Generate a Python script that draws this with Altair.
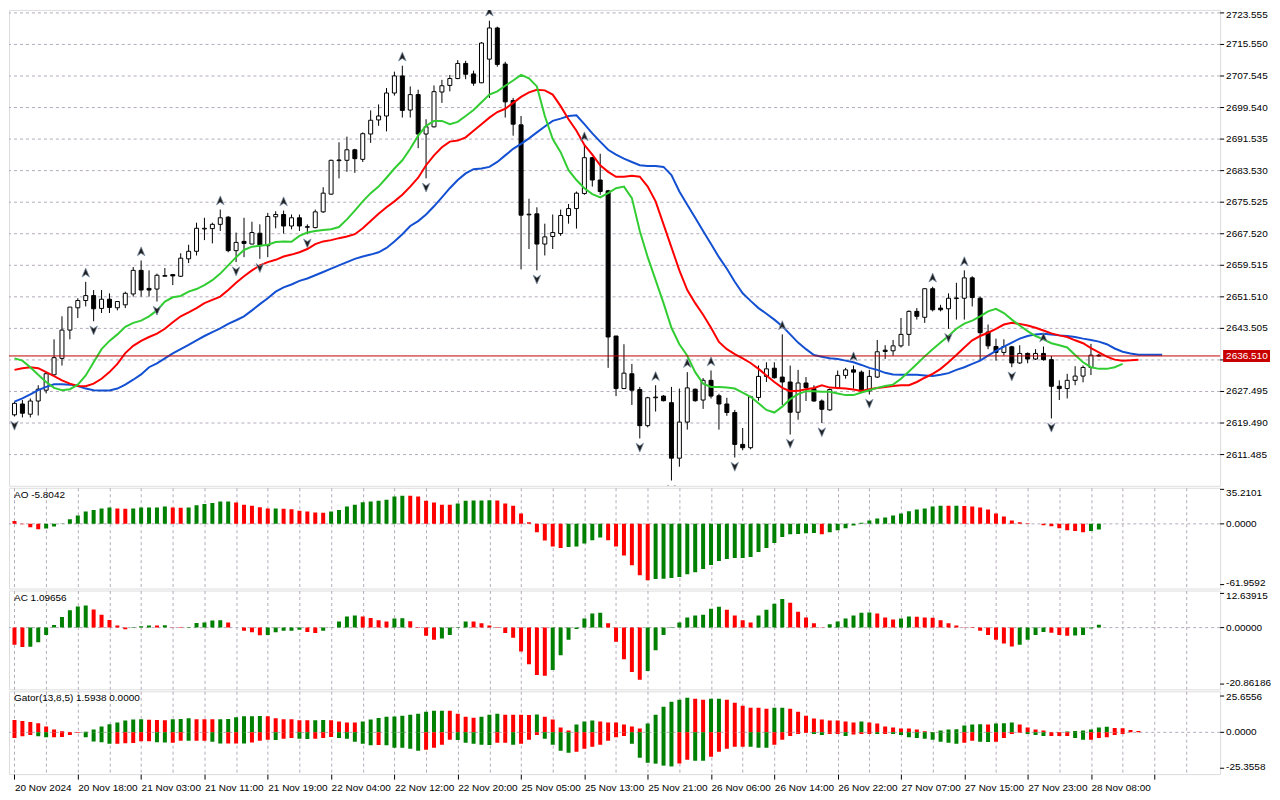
import altair as alt
import pandas as pd

# ---------------- data ----------------
tick_labels = ["20 Nov 2024", "20 Nov 18:00", "21 Nov 03:00", "21 Nov 11:00", "21 Nov 19:00",
               "22 Nov 04:00", "22 Nov 12:00", "22 Nov 20:00", "25 Nov 05:00", "25 Nov 13:00",
               "25 Nov 21:00", "26 Nov 06:00", "26 Nov 14:00", "26 Nov 22:00", "27 Nov 07:00",
               "27 Nov 15:00", "27 Nov 23:00", "28 Nov 08:00"]

price_ticks = [2723.555, 2715.550, 2707.545, 2699.540, 2691.535, 2683.530, 2675.525, 2667.520,
               2659.515, 2651.510, 2643.505, 2635.500, 2627.495, 2619.490, 2611.485]
ao_ticks = [35.2101, 0.0, -61.9592]
ac_ticks = [12.63915, 0.0, -20.86186]
gator_ticks = [25.6556, 0.0, -25.3558]
last_price = 2636.51

opens = [2621.57, 2624.32, 2621.73, 2625.07, 2627.82, 2631.73, 2635.90, 2643.07, 2648.73, 2650.57,
 2651.82, 2648.57, 2650.90, 2648.73, 2649.48, 2652.23, 2658.23, 2653.65, 2653.48, 2656.73,
 2657.15, 2656.73, 2661.15, 2663.07, 2668.73, 2668.82, 2669.90, 2671.73, 2663.23, 2665.57,
 2664.90, 2667.65, 2664.48, 2671.82, 2672.40, 2669.48, 2671.57, 2669.15, 2669.07, 2673.07,
 2677.57, 2686.07, 2686.15, 2688.82, 2686.40, 2692.82, 2696.40, 2697.40, 2703.23, 2707.57,
 2698.90, 2702.82, 2692.82, 2694.65, 2703.48, 2705.15, 2706.90, 2710.73, 2708.07, 2705.82,
 2711.82, 2719.73, 2710.57, 2701.32, 2695.15, 2672.32, 2672.57, 2664.90, 2666.82, 2667.57,
 2672.15, 2673.90, 2677.73, 2686.82, 2681.15, 2678.40, 2641.57, 2628.23, 2631.98, 2627.98,
 2618.82, 2625.90, 2626.32, 2624.65, 2610.57, 2619.73, 2628.07, 2625.32, 2630.32, 2626.40,
 2624.32, 2622.15, 2614.07, 2613.23, 2625.98, 2631.32, 2633.40, 2631.15, 2629.90, 2622.23,
 2629.65, 2628.23, 2625.07, 2622.82, 2628.40, 2631.57, 2632.98, 2632.40, 2627.65, 2631.15,
 2637.98, 2637.82, 2639.07, 2641.98, 2647.82, 2646.32, 2653.57, 2648.65, 2648.48, 2651.07,
 2651.15, 2656.32, 2651.15, 2642.57, 2638.90, 2637.40, 2638.82, 2634.73, 2637.15, 2635.73,
 2637.15, 2635.57, 2628.82, 2628.23, 2630.32, 2631.40, 2633.58, 2636.70]

highs = [2624.90, 2625.32, 2625.73, 2629.07, 2632.40, 2640.73, 2646.57, 2648.90, 2651.15, 2655.32,
 2653.23, 2653.23, 2652.40, 2650.32, 2652.82, 2659.07, 2660.73, 2658.23, 2657.40, 2658.82,
 2657.15, 2662.57, 2664.73, 2670.32, 2671.57, 2670.32, 2673.65, 2671.98, 2667.82, 2671.57,
 2670.57, 2669.90, 2672.82, 2673.23, 2673.40, 2672.40, 2672.40, 2669.90, 2673.65, 2679.32,
 2686.32, 2690.73, 2692.15, 2689.07, 2693.23, 2698.82, 2700.32, 2704.48, 2708.65, 2710.15,
 2704.90, 2704.07, 2696.57, 2705.15, 2706.57, 2707.82, 2711.57, 2711.40, 2708.90, 2716.15,
 2721.57, 2720.07, 2711.15, 2701.98, 2697.40, 2676.40, 2674.23, 2670.07, 2672.40, 2673.65,
 2675.07, 2678.23, 2689.90, 2686.98, 2687.82, 2678.65, 2641.57, 2639.48, 2634.48, 2628.65,
 2626.15, 2629.07, 2626.57, 2628.65, 2628.23, 2632.40, 2628.23, 2630.90, 2632.82, 2626.90,
 2625.90, 2622.82, 2618.23, 2626.40, 2634.07, 2634.90, 2634.90, 2641.98, 2634.07, 2632.98,
 2631.15, 2629.07, 2625.48, 2628.23, 2632.82, 2633.48, 2634.07, 2632.82, 2632.98, 2640.57,
 2639.23, 2640.57, 2646.15, 2648.07, 2648.65, 2653.65, 2654.07, 2649.48, 2652.40, 2655.07,
 2658.23, 2656.73, 2651.57, 2644.48, 2640.90, 2640.73, 2639.07, 2639.23, 2637.40, 2638.23,
 2638.90, 2636.50, 2630.32, 2631.98, 2633.90, 2634.10, 2639.58, 2637.00]

lows = [2621.15, 2620.90, 2620.90, 2621.40, 2627.00, 2631.57, 2634.07, 2640.73, 2646.15, 2649.07,
 2645.32, 2647.40, 2647.40, 2648.07, 2648.65, 2651.57, 2651.57, 2651.57, 2650.32, 2656.73,
 2654.48, 2656.57, 2660.07, 2662.00, 2665.90, 2665.07, 2668.23, 2662.82, 2660.32, 2661.57,
 2664.90, 2661.15, 2661.57, 2668.90, 2667.57, 2668.65, 2668.23, 2667.40, 2668.90, 2672.82,
 2677.40, 2681.57, 2683.23, 2682.98, 2685.73, 2690.57, 2694.90, 2693.48, 2702.57, 2697.00,
 2697.00, 2689.23, 2681.57, 2694.48, 2700.73, 2703.65, 2706.73, 2706.73, 2705.07, 2705.73,
 2701.98, 2709.90, 2697.00, 2692.40, 2658.48, 2663.65, 2658.23, 2662.00, 2663.65, 2666.98,
 2670.07, 2668.82, 2677.40, 2679.48, 2677.40, 2633.48, 2626.32, 2628.23, 2624.07, 2615.57,
 2618.40, 2622.40, 2624.98, 2604.90, 2608.40, 2617.82, 2624.90, 2623.07, 2625.73, 2617.82,
 2621.32, 2610.73, 2612.57, 2612.82, 2625.15, 2629.90, 2630.73, 2624.07, 2616.57, 2620.32,
 2625.07, 2624.90, 2619.48, 2622.57, 2628.07, 2630.73, 2628.23, 2627.40, 2626.73, 2630.90,
 2635.73, 2636.57, 2638.65, 2639.07, 2645.73, 2644.90, 2647.82, 2647.82, 2643.40, 2645.73,
 2645.73, 2649.07, 2635.32, 2638.23, 2635.32, 2636.57, 2633.65, 2634.48, 2634.65, 2635.48,
 2635.32, 2620.65, 2625.32, 2625.73, 2629.07, 2629.80, 2631.65, 2636.30]

closes = [2624.48, 2621.98, 2625.07, 2628.07, 2632.00, 2636.07, 2643.07, 2648.90, 2650.57, 2651.82,
 2648.48, 2650.90, 2648.82, 2650.32, 2652.40, 2658.23, 2653.23, 2653.23, 2656.98, 2656.90,
 2656.82, 2661.32, 2663.07, 2668.90, 2668.90, 2669.90, 2671.57, 2663.23, 2665.32, 2665.07,
 2667.82, 2664.48, 2671.90, 2672.40, 2669.48, 2671.57, 2669.48, 2669.32, 2673.07, 2677.82,
 2686.15, 2686.23, 2688.82, 2686.57, 2692.90, 2696.32, 2697.40, 2703.23, 2707.57, 2698.82,
 2702.82, 2692.82, 2694.65, 2703.57, 2705.07, 2706.90, 2710.73, 2707.98, 2705.73, 2715.90,
 2719.73, 2710.48, 2700.98, 2695.32, 2672.23, 2672.48, 2664.90, 2666.73, 2667.82, 2672.15,
 2673.90, 2677.82, 2686.82, 2681.15, 2678.23, 2641.32, 2628.23, 2632.15, 2627.82, 2618.82,
 2625.90, 2626.07, 2625.15, 2610.57, 2619.73, 2628.40, 2625.15, 2630.32, 2626.32, 2624.32,
 2622.15, 2614.07, 2613.23, 2626.15, 2631.32, 2633.23, 2630.98, 2629.90, 2622.23, 2629.65,
 2628.48, 2625.07, 2622.98, 2627.98, 2631.57, 2632.98, 2632.40, 2627.65, 2631.32, 2637.57,
 2637.65, 2639.07, 2641.98, 2647.82, 2646.57, 2653.57, 2648.23, 2648.23, 2651.15, 2651.23,
 2656.32, 2651.32, 2642.40, 2639.07, 2637.40, 2638.90, 2634.73, 2637.15, 2635.73, 2637.15,
 2635.57, 2628.82, 2628.23, 2630.32, 2631.40, 2633.60, 2636.70, 2636.51]

lips = [2635.90, 2635.32, 2633.65, 2631.73, 2629.90, 2628.40, 2627.82, 2628.07, 2629.23, 2631.57,
 2634.90, 2638.23, 2640.32, 2641.98, 2643.90, 2644.90, 2645.48, 2646.57, 2648.07, 2650.32,
 2651.40, 2651.73, 2652.82, 2653.48, 2654.48, 2655.73, 2657.40, 2659.48, 2661.57, 2663.40,
 2664.23, 2664.48, 2664.73, 2665.40, 2665.57, 2665.48, 2666.98, 2667.82, 2668.23, 2668.48,
 2668.65, 2669.23, 2671.15, 2673.40, 2675.73, 2677.82, 2679.48, 2681.73, 2684.07, 2686.15,
 2689.07, 2692.40, 2694.90, 2696.15, 2696.15, 2695.32, 2695.90, 2697.40, 2698.90, 2700.90,
 2702.82, 2703.65, 2705.07, 2706.40, 2707.82, 2706.98, 2704.90, 2697.40, 2691.57, 2688.23,
 2683.65, 2681.15, 2679.07, 2677.57, 2676.73, 2677.82, 2679.07, 2679.48, 2676.57, 2668.23,
 2661.57, 2655.73, 2649.90, 2643.65, 2639.48, 2636.57, 2632.40, 2629.48, 2628.65, 2628.65,
 2628.48, 2628.23, 2627.23, 2626.15, 2624.48, 2622.82, 2622.15, 2623.65, 2625.57, 2626.82,
 2627.57, 2627.57, 2627.40, 2627.40, 2626.98, 2626.57, 2626.57, 2627.23, 2627.82, 2628.40,
 2628.90, 2629.23, 2630.73, 2632.57, 2634.48, 2636.40, 2638.23, 2639.90, 2641.57, 2643.40,
 2644.73, 2645.48, 2646.57, 2647.82, 2648.48, 2647.40, 2645.73, 2644.23, 2642.82, 2641.57,
 2640.73, 2639.73, 2639.23, 2638.65, 2636.73, 2634.90, 2633.65, 2633.23, 2633.23, 2633.65,
 2634.48]

teeth = [2632.98, 2633.40, 2633.65, 2633.40, 2632.40, 2631.40, 2630.32, 2629.48, 2628.90, 2628.82,
 2629.48, 2630.73, 2632.40, 2634.48, 2637.23, 2639.07, 2640.32, 2641.32, 2642.15, 2643.40,
 2645.07, 2646.57, 2647.57, 2648.65, 2649.90, 2650.73, 2651.57, 2653.23, 2655.07, 2656.73,
 2658.23, 2659.48, 2660.32, 2660.90, 2661.73, 2662.23, 2662.82, 2663.65, 2664.90, 2665.57,
 2665.90, 2666.40, 2666.82, 2667.40, 2668.90, 2670.73, 2672.57, 2674.23, 2675.73, 2677.40,
 2679.48, 2681.73, 2684.90, 2687.40, 2689.48, 2690.90, 2691.15, 2691.98, 2693.65, 2695.32,
 2696.98, 2698.40, 2699.23, 2700.73, 2702.23, 2703.40, 2704.07, 2703.90, 2702.82, 2699.90,
 2696.57, 2693.65, 2690.07, 2687.57, 2684.90, 2683.23, 2681.98, 2681.98, 2682.23, 2681.98,
 2679.48, 2675.73, 2669.90, 2664.07, 2658.23, 2653.23, 2649.90, 2646.98, 2643.65, 2640.07,
 2638.23, 2636.98, 2635.90, 2634.73, 2633.23, 2631.57, 2629.90, 2628.40, 2627.57, 2627.65,
 2628.07, 2628.40, 2629.07, 2628.48, 2628.40, 2628.23, 2627.98, 2627.65, 2628.07, 2628.40,
 2628.65, 2628.90, 2629.07, 2629.07, 2629.90, 2630.98, 2631.98, 2633.23, 2634.90, 2636.73,
 2638.65, 2640.48, 2641.57, 2642.40, 2643.40, 2644.48, 2644.90, 2644.65, 2644.23, 2643.65,
 2642.98, 2642.23, 2641.73, 2641.32, 2640.48, 2639.73, 2638.48, 2637.40, 2636.32, 2635.57,
 2635.32, 2635.40, 2635.57]

jaw = [2624.90, 2625.73, 2626.73, 2627.82, 2628.65, 2629.32, 2629.32, 2629.23, 2628.90, 2628.23,
 2627.82, 2627.73, 2627.73, 2628.23, 2629.23, 2630.48, 2631.82, 2633.65, 2634.65, 2635.90,
 2637.15, 2638.23, 2639.32, 2640.48, 2641.57, 2642.57, 2643.48, 2644.65, 2645.57, 2646.57,
 2648.07, 2649.65, 2651.15, 2652.82, 2653.90, 2654.65, 2655.57, 2656.15, 2656.98, 2657.82,
 2658.65, 2659.48, 2660.32, 2661.15, 2661.73, 2662.23, 2662.82, 2663.90, 2665.57, 2667.40,
 2669.48, 2670.73, 2672.40, 2674.48, 2676.73, 2679.07, 2681.15, 2682.82, 2683.90, 2684.07,
 2684.48, 2685.73, 2687.40, 2689.07, 2690.32, 2691.73, 2693.23, 2694.73, 2696.15, 2696.73,
 2697.40, 2697.57, 2695.32, 2692.98, 2690.90, 2688.82, 2687.57, 2686.57, 2685.73, 2684.90,
 2684.73, 2684.73, 2684.48, 2682.40, 2678.23, 2674.90, 2671.57, 2668.23, 2664.90, 2661.57,
 2658.65, 2655.32, 2652.40, 2650.48, 2648.65, 2647.23, 2645.73, 2644.07, 2641.98, 2639.90,
 2638.23, 2636.73, 2636.32, 2635.90, 2635.73, 2635.32, 2634.90, 2634.23, 2633.48, 2632.98,
 2632.23, 2631.82, 2631.73, 2631.73, 2631.73, 2631.57, 2631.40, 2631.73, 2632.15, 2632.98,
 2633.65, 2634.48, 2635.32, 2636.57, 2637.82, 2638.90, 2639.90, 2640.90, 2641.57, 2641.98,
 2642.15, 2641.98, 2641.73, 2641.57, 2641.32, 2640.90, 2640.57, 2640.15, 2639.48, 2638.40,
 2637.57, 2637.15, 2636.82, 2636.82, 2636.82, 2636.82]

fractal_up_bars = [9, 16, 26, 34, 49, 60, 72, 81, 85, 88, 97, 106, 116, 120, 130]
fractal_down_bars = [0, 10, 18, 28, 31, 37, 52, 66, 79, 83, 91, 98, 102, 108, 118, 126, 131]

ao_values = [3.0, -0.5, -3.4, -5.4, -4.7, -2.7, 0.3, 4.7, 8.5, 12.5,
 14.2, 15.6, 16.6, 15.6, 15.4, 15.7, 16.6, 16.7, 16.8, 17.6,
 16.6, 16.5, 16.7, 19.0, 20.3, 21.3, 22.7, 22.8, 21.7, 19.6,
 18.6, 16.9, 15.6, 15.7, 15.5, 14.9, 13.5, 12.5, 11.5, 11.4,
 12.5, 14.2, 17.6, 19.6, 22.0, 22.7, 23.7, 24.7, 27.8, 28.8,
 28.7, 27.8, 23.7, 21.7, 19.6, 19.5, 20.7, 23.7, 23.8, 23.9,
 24.0, 23.8, 20.7, 18.6, 10.5, 1.7, -8.5, -16.9, -23.0, -24.7,
 -23.7, -23.0, -20.0, -16.6, -13.9, -16.6, -23.0, -32.2, -42.3, -52.5,
 -57.6, -56.2, -56.1, -55.2, -54.2, -51.5, -49.4, -46.0, -42.0, -37.9,
 -35.9, -34.9, -34.8, -33.9, -28.8, -24.7, -19.6, -13.5, -10.5, -10.4,
 -9.5, -9.4, -10.5, -8.5, -6.4, -4.4, -1.7, 1.2, 3.4, 5.4,
 6.4, 8.5, 10.5, 12.9, 14.6, 15.6, 17.6, 18.6, 18.5, 18.6,
 18.3, 17.6, 16.6, 14.6, 10.5, 7.4, 3.4, 1.7, 0.6, 0.2,
 -1.4, -2.4, -4.4, -6.4, -7.4, -8.5, -7.4, -5.8]
ao_states = ("rrrrgggggg" "gggrrggggg" "rrggggggrr" "rrrgrrrrrr" "gggggggggg"
             "rrrrrrgggg" "grrrrrrrrr" "gggggrrrrr" "rggggggggg" "gggggggggg"
             "ggrggggggg" "ggggggggrg" "rrrrrrrrrr" "rrrrrrgg")

ac_values = [-6.3, -7.2, -7.1, -5.4, -2.7, 1.0, 3.9, 6.4, 7.8, 8.2,
 6.7, 4.8, 2.8, 0.8, -0.6, 0.2, 0.5, 0.8, 0.75, 0.85,
 0.1, -0.1, 0.2, 1.7, 1.9, 2.65, 2.7, 1.9, 0.05, -1.2,
 -1.7, -2.8, -2.75, -1.7, -1.2, -1.15, -0.8, -1.6, -2.0, -1.2,
 0.1, 2.3, 4.1, 4.5, 4.1, 3.6, 2.7, 2.3, 3.4, 3.45,
 2.4, 0.2, -3.0, -4.5, -4.0, -2.7, 0.2, 2.3, 2.25, 1.6,
 0.8, -0.1, -2.0, -3.7, -8.8, -13.5, -17.5, -17.8, -15.7, -10.2,
 -4.5, -0.5, 3.4, 5.2, 5.5, 1.6, -5.2, -11.7, -16.4, -19.3,
 -16.0, -8.4, -2.7, 0.2, 1.9, 3.7, 4.5, 4.8, 7.0, 7.7,
 6.6, 4.5, 2.7, 1.9, 4.5, 6.6, 8.8, 10.6, 9.2, 5.9,
 3.7, 1.6, 0.1, 1.2, 2.3, 3.4, 4.5, 5.5, 5.6, 5.2,
 3.7, 3.0, 3.4, 4.1, 4.05, 3.7, 3.65, 2.7, 1.6, 0.8,
 0.1, -0.1, -1.2, -2.7, -4.5, -5.9, -7.0, -6.3, -4.5, -2.7,
 -1.6, -1.9, -2.7, -3.0, -2.9, -2.7, -0.3, 1.1]
ac_states = ("rrgggggggg" "rrrrrgggrg" "rrgggggrrr" "rrgggggrrg" "ggggrrrrgg"
             "rrrrggggrr" "rrrrrrrrgg" "gggggrrrrr" "gggggggggg" "rrrrggggrr"
             "rrrggggggr" "rrggrrrrrr" "rrrrrrrggg" "grrrgggg")

gator_upper = [8.8, 8.1, 7.4, 6.5, 4.2, 2.1, 0.7, 0.3, 0.2, 0.4,
 2.1, 4.2, 5.8, 7.0, 8.4, 9.1, 9.2, 8.9, 8.7, 8.6,
 9.3, 9.35, 10.0, 9.3, 9.25, 9.2, 9.3, 9.35, 10.7, 11.4,
 11.45, 11.5, 11.4, 10.0, 9.3, 9.2, 8.6, 8.5, 8.6, 8.65,
 8.5, 7.7, 7.0, 6.9, 7.7, 9.1, 10.2, 11.1, 11.15, 11.8,
 12.5, 13.2, 14.6, 15.3, 15.35, 15.3, 13.2, 11.1, 10.4, 11.1,
 12.5, 13.2, 12.5, 12.45, 12.4, 12.35, 12.6, 11.1, 9.1, 3.5,
 1.4, 5.6, 7.7, 8.4, 7.7, 7.0, 6.95, 5.6, 4.2, 2.8,
 6.3, 12.5, 18.1, 21.6, 23.0, 24.4, 23.7, 23.0, 23.7, 23.75,
 23.0, 20.9, 18.8, 17.4, 17.3, 16.7, 17.4, 17.45, 16.7, 14.6,
 11.8, 9.8, 9.1, 8.4, 8.35, 7.7, 7.0, 7.7, 7.0, 6.3,
 4.2, 3.5, 2.8, 2.75, 2.1, 0.7, 0.3, 1.4, 2.1, 2.15,
 4.9, 5.6, 5.65, 5.6, 6.3, 6.35, 7.0, 5.6, 3.5, 2.1,
 1.4, 0.1, 0.3, 0.6, 0.9, 1.4, 2.1, 3.5, 3.9, 3.0,
 2.95, 1.6, 0.9]
gator_upper_states = ("rrrrrrrrrg" "gggggggrrr" "gggrrrgggg" "ggrrrrrrgg" "rrrrgggggg"
                      "gggggrrrrg" "ggrrrrgrrr" "rgggrrrrrr" "ggggggrrgg" "rrrrrrggrr"
                      "rrrrrrrgrr" "rrrrrrrggg" "gggrgggrrr" "rrgggggggr" "rrr")

gator_lower = [-3.9, -2.8, -1.9, -2.8, -3.5, -3.45, -3.3, -1.9, -0.2, -3.5,
 -6.5, -7.0, -8.1, -8.0, -7.7, -7.6, -6.3, -6.2, -6.9, -7.2,
 -7.4, -6.0, -6.0, -6.0, -6.0, -6.7, -7.9, -7.9, -7.8, -7.9,
 -7.2, -6.0, -5.3, -5.35, -4.6, -3.9, -4.6, -4.65, -4.6, -3.9,
 -3.3, -3.9, -4.6, -6.7, -8.1, -9.1, -9.0, -9.1, -10.9, -10.95,
 -11.6, -13.0, -12.3, -10.9, -8.8, -5.3, -5.35, -7.4, -8.1, -8.8,
 -8.85, -7.4, -7.4, -8.8, -8.1, -5.3, -1.9, -4.6, -8.8, -13.0,
 -14.4, -13.7, -11.6, -10.2, -8.8, -6.0, -3.5, -2.6, -8.1, -17.9,
 -21.4, -22.1, -23.5, -24.1, -22.0, -19.3, -20.0, -20.05, -17.2, -13.7,
 -11.6, -10.2, -10.2, -10.25, -10.9, -10.95, -8.8, -5.3, -2.6, -1.2,
 -0.5, -1.2, -1.9, -1.2, -1.2, -2.6, -1.6, -1.2, -1.15, -1.2,
 -1.15, -1.2, -1.9, -3.5, -3.9, -4.6, -5.3, -6.7, -7.4, -8.1,
 -7.4, -6.0, -6.7, -6.75, -6.7, -3.9, -1.2, -0.2, -1.2, -1.9,
 -2.6, -2.6, -2.6, -2.6, -3.9, -5.3, -5.3, -3.9, -3.5, -1.9,
 -1.2]
gator_lower_states = ("rrrggrrrrg" "gggrrrrrgg" "rrgrrggrrg" "rrrgrrggrr" "rgggggrggg"
                      "ggrrrrgggg" "grrgrrrggg" "grrrrrrrgg" "ggggrrggrr" "rrrgggrrrr"
                      "rggrrgrrrg" "rggggggggg" "rrggrrrrgg" "grrrggrrrr" "r")

panel_titles = ["AO -5.8042", "AC 1.09656", "Gator(13,8,5) 1.5938 0.0000"]

# ---------------- styling ----------------
FONT = "Liberation Sans"
FS = 10
GRID = "#b4aabb"
GREEN = "#008000"
RED = "#ff0000"
W = 1214
H_MAIN, H_AO, H_AC, H_GT = 477, 101, 99, 83
XDOM = [-0.0625, W / 8 - 0.0625]
grid_vals = list(range(0, 152, 4))
xscale = alt.Scale(domain=XDOM, nice=False, zero=False)

label_array = "[" + ",".join("'" + s + "'" for s in tick_labels) + "]"
label_expr = ("(datum.value % 8 == 0 && datum.value / 8 < " + str(len(tick_labels)) + ") ? "
              + label_array + "[datum.value / 8] : ''")


def x_enc(show=None, labels=False):
    if show is None:
        return alt.X("bar:Q", scale=xscale, axis=None)
    if labels:
        ax = alt.Axis(values=grid_vals, grid=True, gridColor=GRID, gridDash=[3, 3], domain=False,
                      title=None, labels=True, labelExpr=label_expr, labelAlign="left",
                      labelBaseline="top", labelPadding=3, labelFlush=False, labelOverlap=False,
                      labelBound=False, labelFont=FONT, labelFontSize=FS, labelColor="black",
                      ticks=True, tickSize=5, tickColor="black",
                      tickOpacity={"condition": {"test": "datum.value % 8 == 0", "value": 1}, "value": 0})
    else:
        ax = alt.Axis(values=grid_vals, grid=True, gridColor=GRID, gridDash=[3, 3], domain=False,
                      title=None, labels=False, ticks=False)
    return alt.X("bar:Q", scale=xscale, axis=ax)


def price_scale_layers(ticks, scale, digits, dys, grid, hide_near=None):
    """Right-hand value scale drawn as marks: grid lines, tick marks and labels."""
    df = pd.DataFrame({"v": ticks, "t": [("{:." + str(digits) + "f}").format(v) for v in ticks]})
    layers = []
    if grid:
        layers.append(alt.Chart(df).mark_rule(color=GRID, strokeDash=[3, 3], strokeWidth=1).encode(
            y=alt.Y("v:Q", scale=scale, axis=None)))
    tick_layer = alt.Chart(df).mark_rule(color="black", strokeWidth=1, clip=False).encode(
        x=alt.value(W), x2=alt.value(W + 4), y=alt.Y("v:Q", scale=scale, axis=None))
    text_layers = []
    for i in range(len(ticks)):
        # a label lying under the current-price box is covered in the original, so it is not drawn
        if hide_near is not None and abs(ticks[i] - hide_near) < 2.0:
            continue
        text_layers.append(
            alt.Chart(df.iloc[[i]]).mark_text(align="left", baseline="middle", font=FONT, fontSize=FS,
                                               color="black", clip=False, dy=dys[i]).encode(
                x=alt.value(W + 6), y=alt.Y("v:Q", scale=scale, axis=None), text="t:N"))
    return layers, [tick_layer] + text_layers


# ---------------- main price panel ----------------
n = len(opens)
candles = pd.DataFrame({"bar": list(range(n)), "o": opens, "h": highs, "l": lows, "c": closes})
candles["dir"] = ["up" if c >= o else "down" for o, c in zip(opens, closes)]

ymain = alt.Scale(domain=[2603.56, 2724.31], nice=False, zero=False)
main_dys = [2] + [0] * (len(price_ticks) - 1)
main_grid, main_labels = price_scale_layers(price_ticks, ymain, 3, main_dys, True, hide_near=last_price)

wicks = alt.Chart(candles).mark_rule(color="black", strokeWidth=1, clip=True).encode(
    x=x_enc(True), y=alt.Y("l:Q", scale=ymain, axis=None), y2="h:Q")
bodies = alt.Chart(candles).mark_bar(size=4, stroke="black", strokeWidth=1, clip=True).encode(
    x=x_enc(), y=alt.Y("o:Q", scale=ymain, axis=None), y2="c:Q",
    fill=alt.Fill("dir:N", scale=alt.Scale(domain=["up", "down"], range=["white", "black"]), legend=None))


def line_layer(vals, color):
    df = pd.DataFrame({"bar": list(range(len(vals))), "v": vals})
    return alt.Chart(df).mark_line(color=color, strokeWidth=2, clip=True).encode(
        x=x_enc(), y=alt.Y("v:Q", scale=ymain, axis=None))


jaw_l = line_layer(jaw, "#1450d2")
teeth_l = line_layer(teeth, "#ff0000")
lips_l = line_layer(lips, "#32cd32")

price_df = pd.DataFrame({"p": [last_price], "t": ["{:.3f}".format(last_price)]})
pline = alt.Chart(price_df).mark_rule(color="#c00000", strokeWidth=1).encode(
    y=alt.Y("p:Q", scale=ymain, axis=None))
pbox = alt.Chart(price_df).mark_rect(color="#c80000", clip=False, yOffset=-6, y2Offset=6).encode(
    x=alt.value(W + 3), x2=alt.value(W + 50), y=alt.Y("p:Q", scale=ymain, axis=None), y2="p:Q")
ptext = alt.Chart(price_df).mark_text(align="left", baseline="middle", color="white", font=FONT,
                                      fontSize=FS, clip=False).encode(
    x=alt.value(W + 6), y=alt.Y("p:Q", scale=ymain, axis=None), text="t:N")

UP = "M0,-1L0.8,0.9L0,0.35L-0.8,0.9Z"
DN = "M0,1L0.8,-0.9L0,-0.35L-0.8,-0.9Z"
fu = pd.DataFrame({"bar": fractal_up_bars, "p": [highs[i] for i in fractal_up_bars]})
fd = pd.DataFrame({"bar": fractal_down_bars, "p": [lows[i] for i in fractal_down_bars]})
fr_up = alt.Chart(fu).mark_point(shape=UP, filled=True, size=90, fill="#202020", stroke="#8094ad",
                                 strokeWidth=0.7, opacity=1, yOffset=-9, clip=True).encode(
    x=x_enc(), y=alt.Y("p:Q", scale=ymain, axis=None))
fr_dn = alt.Chart(fd).mark_point(shape=DN, filled=True, size=90, fill="#202020", stroke="#8094ad",
                                 strokeWidth=0.7, opacity=1, yOffset=9, clip=True).encode(
    x=x_enc(), y=alt.Y("p:Q", scale=ymain, axis=None))

main = alt.layer(*main_grid, wicks, bodies, jaw_l, teeth_l, lips_l, pline, fr_up, fr_dn,
                 *main_labels, pbox, ptext).properties(width=W, height=H_MAIN)


# ---------------- indicator panels ----------------
def hist_panel(series, dom, ticks, digits, dys, title, height, labels=False):
    rows = []
    for vals, states in series:
        for i, (v, s) in enumerate(zip(vals, states)):
            rows.append({"bar": i, "v": v, "s": s})
    df = pd.DataFrame(rows)
    ysc = alt.Scale(domain=dom, nice=False, zero=False)
    zero = alt.Chart(pd.DataFrame({"z": [0.0]})).mark_rule(color=GRID, strokeDash=[3, 3]).encode(
        y=alt.Y("z:Q", scale=ysc, axis=None))
    bars = alt.Chart(df).mark_bar(size=4, clip=True).encode(
        x=x_enc(True, labels), y=alt.Y("v:Q", scale=ysc, axis=None), y2=alt.datum(0),
        color=alt.Color("s:N", scale=alt.Scale(domain=["g", "r"], range=[GREEN, RED]), legend=None))
    ttl = alt.Chart(pd.DataFrame({"t": [title]})).mark_text(
        align="left", baseline="middle", font=FONT, fontSize=FS, color="black").encode(
        x=alt.value(5), y=alt.value(7), text="t:N")
    _, lab = price_scale_layers(ticks, ysc, digits, dys, False)
    return alt.layer(zero, bars, ttl, *lab).properties(width=W, height=height)


ao = hist_panel([(ao_values, ao_states)], [-66.0, 36.8], ao_ticks, 4, [4, 0, -2],
                panel_titles[0], H_AO)
ac = hist_panel([(ac_values, ac_states)], [-22.8, 13.7], ac_ticks, 5, [3, 0, -1],
                panel_titles[1], H_AC)
gt = hist_panel([(gator_upper, gator_upper_states), (gator_lower, gator_lower_states)],
                [-29.5, 29.0], gator_ticks, 4, [1, 0, -1], panel_titles[2], H_GT, labels=True)

chart = alt.vconcat(main, ao, ac, gt, spacing=2, bounds="flush",
                    padding={"left": 0, "top": 0, "right": 0, "bottom": 0}).configure_view(
    stroke="black", strokeWidth=1).configure(background="white", font=FONT)

chart.save("out.html", embed_options={"renderer": "svg", "actions": False})
